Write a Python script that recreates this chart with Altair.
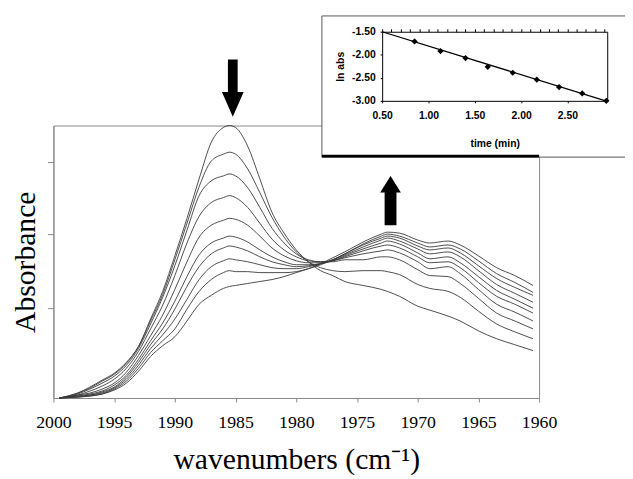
import altair as alt
import pandas as pd

# ---------------- data ----------------
wavenumbers = [1999.5, 1998, 1997, 1996, 1995, 1994, 1993, 1992, 1991, 1990, 1989, 1988, 1987, 1986, 1985.5,
               1985, 1984, 1983, 1982, 1981, 1980, 1979, 1978, 1977, 1976,
               1974.5, 1973, 1972.5, 1971.5, 1970, 1969, 1967.5, 1966.5, 1965, 1963.5, 1962, 1960.5]

# absorbance (milli-units) of each successive scan
scan0 = [0, 5, 11, 18, 25, 36, 52, 80, 108, 144, 182, 222, 259, 274, 276,
         274, 255, 222, 188, 167, 150, 138, 129, 124, 118,
         114, 110, 108, 103, 93, 89, 83, 78, 68, 60, 54, 48]
scan1 = [0, 5, 10, 17, 24, 35, 52, 78, 105, 140, 177, 214, 240, 247, 249,
         247, 232, 208, 183, 163, 148, 138, 132, 129, 128,
         129, 129, 128, 125, 115, 111, 108, 102, 88, 75, 67, 60]
scan2 = [0, 4, 9, 15, 22, 33, 50, 75, 102, 134, 170, 205, 220, 225, 227,
         225, 213, 193, 172, 157, 146, 140, 138, 138, 140,
         140, 143, 143, 140, 130, 124, 123, 116, 101, 86, 78, 70]
scan3 = [0, 3, 7, 12, 19, 30, 47, 70, 94, 124, 157, 184, 198, 203, 205,
         203, 193, 177, 161, 150, 143, 139, 138, 139, 142,
         146, 149, 150, 147, 138, 131, 133, 126, 110, 95, 87, 78]
scan4 = [0, 3, 5, 9, 15, 26, 43, 63, 84, 110, 138, 163, 175, 180, 182,
         181, 175, 164, 152, 144, 139, 137, 137, 139, 143,
         149, 154, 155, 152, 143, 137, 138, 132, 117, 103, 95, 86]
scan5 = [0, 2, 4, 7, 13, 23, 39, 58, 76, 98, 123, 145, 157, 162, 164,
         163, 158, 150, 143, 138, 135, 135, 136, 139, 144,
         151, 157, 159, 156, 147, 141, 143, 137, 123, 109, 100, 91]
scan6 = [0, 2, 3, 6, 11, 21, 36, 54, 70, 90, 113, 133, 146, 152, 154,
         153, 149, 143, 138, 135, 133, 134, 136, 140, 145,
         153, 160, 162, 159, 151, 146, 148, 143, 129, 115, 106, 97]
scan7 = [0, 1, 3, 5, 10, 19, 33, 50, 64, 80, 100, 120, 133, 139, 141,
         140, 138, 135, 132, 131, 131, 133, 136, 140, 146,
         155, 162, 164, 162, 154, 150, 152, 147, 134, 121, 112, 104]
scan8 = [0, 1, 2, 4, 9, 17, 30, 46, 58, 70, 90, 108, 120, 127, 129,
         128, 128, 127, 127, 127, 128, 131, 135, 140, 146,
         156, 164, 166, 164, 157, 153, 155, 151, 139, 126, 117, 107]
scan9 = [0, 1, 2, 4, 8, 15, 27, 42, 53, 62, 78, 95, 104, 111, 113,
         114, 116, 118, 120, 123, 127, 131, 136, 142, 148,
         158, 166, 168, 167, 160, 157, 159, 155, 144, 132, 124, 114]
scans = [scan0, scan1, scan2, scan3, scan4, scan5, scan6, scan7, scan8, scan9]

x_ticks = [2000, 1995, 1990, 1985, 1980, 1975, 1970, 1965, 1960]
y_ticks = [91, 166, 239]

# inset: ln(abs) vs time
times = [0.85, 1.13, 1.40, 1.64, 1.91, 2.17, 2.41, 2.66, 2.92]
ln_abs = [-1.71, -1.92, -2.07, -2.26, -2.39, -2.54, -2.70, -2.84, -3.00]
fit_t = [0.50, 2.93]
fit_ln = [-1.50, -3.01]
inset_x_ticks = [0.5, 1.0, 1.5, 2.0, 2.5]
inset_y_ticks = [-1.5, -2.0, -2.5, -3.0]
inset_minor = [0.5, 0.6, 0.7, 0.8, 0.9, 1.0, 1.1, 1.2, 1.3, 1.4, 1.5, 1.6, 1.7, 1.8,
               1.9, 2.0, 2.1, 2.2, 2.3, 2.4, 2.5, 2.6, 2.7, 2.8, 2.9]

rows = []
for k, vals in enumerate(scans):
    for w, v in zip(wavenumbers, vals):
        rows.append({"wn": w, "abs": v, "scan": k})
df = pd.DataFrame(rows)
pts_df = pd.DataFrame({"t": times, "ln": ln_abs})
fit_df = pd.DataFrame({"t": fit_t, "ln": fit_ln})
one = pd.DataFrame({"a": [0]})

W, H = 492, 276
SERIF = "Liberation Serif"
SANS = "Liberation Sans"

# ---------------- main spectra ----------------
curves = alt.Chart(df).mark_line(color="#3a3a3a", strokeWidth=0.9, interpolate="monotone").encode(
    x=alt.X("wn:Q",
            scale=alt.Scale(domain=[1960, 2000], reverse=True, nice=False, zero=False),
            axis=alt.Axis(values=x_ticks, format="d", labelFont=SERIF, labelFontSize=18,
                          labelColor="black", labelFlush=False, labelOverlap=False,
                          tickSize=4, tickColor="#888", domainColor="#888", labelPadding=12,
                          grid=False, zindex=0,
                          title="wavenumbers (cm\u207b\u00b9)", titleFont=SERIF, titleFontSize=30,
                          titleFontWeight="normal", titleColor="black", titlePadding=13)),
    y=alt.Y("abs:Q",
            scale=alt.Scale(domain=[0, 276], nice=False, zero=False),
            axis=alt.Axis(values=y_ticks, labels=False, tickSize=6, tickColor="#888",
                          domainColor="#888", grid=False, zindex=0,
                          title="Absorbance", titleFont=SERIF, titleFontSize=30,
                          titleFontWeight="normal", titleColor="black", titlePadding=7)),
    detail="scan:N",
)

# ---------------- inset box ----------------
box = alt.Chart(one).mark_rect(fill="white", stroke="#555", strokeWidth=1).encode(
    x=alt.value(272), x2=alt.value(650), y=alt.value(-111), y2=alt.value(32))
shadow = alt.Chart(one).mark_rule(color="black", strokeWidth=3).encode(
    x=alt.value(272), x2=alt.value(492), y=alt.value(31))

# ---------------- inset plot ----------------
xs = alt.Scale(domain=[0.5, 2.93], range=[333, 561], nice=False, zero=False)
ys = alt.Scale(domain=[-3.0, -1.5], range=[-25, -95], nice=False, zero=False)
lab = "replace(format(datum.value, '.2f'), '\u2212', '-')"

fit_line = alt.Chart(fit_df).mark_line(color="black", strokeWidth=1.3).encode(
    x=alt.X("t:Q", scale=xs,
            axis=alt.Axis(orient="bottom", offset=-301, values=inset_x_ticks, labelExpr=lab,
                          labelFont=SANS, labelFontWeight="bold", labelFontSize=10.5,
                          labelColor="black", labelFlush=False, labelOverlap=False,
                          tickSize=2, tickColor="black", domainColor="black", labelPadding=8,
                          grid=False, zindex=2,
                          title="time (min)", titleFont=SANS, titleFontWeight="bold",
                          titleFontSize=10.5, titleColor="black", titlePadding=18)),
    y=alt.Y("ln:Q", scale=ys,
            axis=alt.Axis(orient="left", offset=-333, values=inset_y_ticks, labelExpr=lab,
                          labelFont=SANS, labelFontWeight="bold", labelFontSize=10.5,
                          labelColor="black", labelFlush=False, labelOverlap=False,
                          tickSize=2, tickColor="black", domainColor="black", labelPadding=5,
                          grid=False, zindex=2,
                          title="ln abs", titleFont=SANS, titleFontWeight="bold",
                          titleFontSize=10.5, titleColor="black", titlePadding=6)),
)
points = alt.Chart(pts_df).mark_point(shape="diamond", filled=True, size=40, color="black",
                                      opacity=1).encode(
    x=alt.X("t:Q", scale=xs,
            axis=alt.Axis(orient="top", offset=95, values=inset_minor, labels=False,
                          tickSize=3, tickColor="black", domainColor="black",
                          grid=False, zindex=2, title=None)),
    y=alt.Y("ln:Q", scale=ys,
            axis=alt.Axis(orient="right", offset=69, labels=False, ticks=False,
                          domainColor="black", grid=False, zindex=2, title=None)),
)
inset = alt.layer(fit_line, points).resolve_axis(x="independent", y="independent")

# ---------------- arrows ----------------
down_path = "M -0.17 -1 L 0.17 -1 L 0.17 0.14 L 0.38 0.14 L 0 1 L -0.38 0.14 L -0.17 0.14 Z"
up_path = "M -0.24 1 L 0.24 1 L 0.24 -0.33 L 0.42 -0.33 L 0 -1 L -0.42 -0.33 L -0.24 -0.33 Z"
down = alt.Chart(one).mark_point(shape=down_path, filled=True, color="black", opacity=1,
                                 size=3364, strokeWidth=0).encode(
    x=alt.value(181.7), y=alt.value(-38))
up = alt.Chart(one).mark_point(shape=up_path, filled=True, color="black", opacity=1,
                               size=2500, strokeWidth=0).encode(
    x=alt.value(341.5), y=alt.value(76))

chart = alt.layer(curves, box, shadow, inset, down, up).resolve_scale(
    x="independent", y="independent"
).properties(
    width=W, height=H,
    autosize=alt.AutoSizeParams(type="none"),
    padding={"left": 46, "top": 116, "right": 87, "bottom": 79},
).configure_view(stroke="#888", strokeWidth=1)

chart.save("out.html", embed_options={"renderer": "svg", "actions": False})
